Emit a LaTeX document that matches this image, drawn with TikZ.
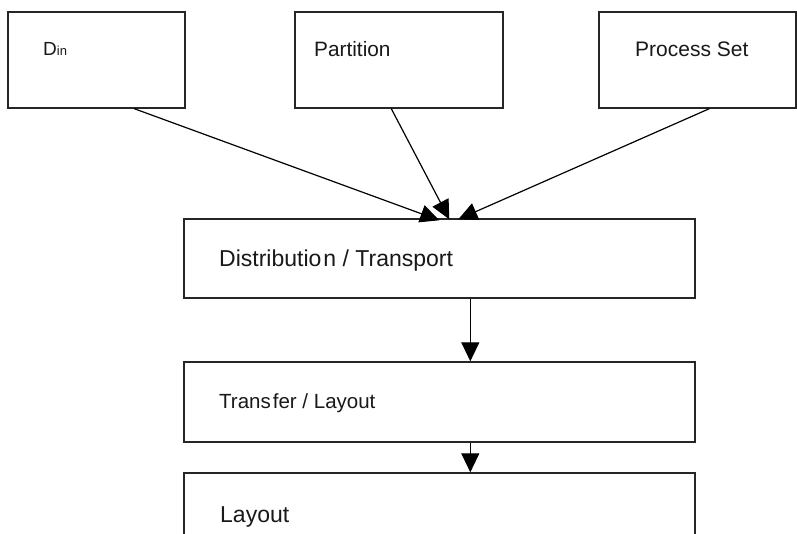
\documentclass[tikz,border=0pt]{standalone}
\usepackage{fontspec}
\setmainfont{Liberation Sans}
\usetikzlibrary{arrows.meta,calc}

\begin{document}
\begin{tikzpicture}[x=1pt,y=-1pt,
  box/.style={draw=black!85, line width=1.4pt, rectangle, inner sep=0pt, fill=white},
  txt/.style={anchor=base west, inner sep=0pt, text=black!90},
  flow/.style={draw=black, line width=1.2pt,
    -{Triangle[length=19pt,width=18pt]}},
  every node/.style={font=\fontsize{20}{24}\selectfont}]
  \useasboundingbox (0,0) rectangle (797,533);

  % source boxes
  \node[box, minimum width=177pt, minimum height=96pt] (din)  at (96.5,60) {};
  \node[box, minimum width=208pt, minimum height=96pt] (part) at (399,60) {};
  \node[box, minimum width=197pt, minimum height=96pt] (proc) at (697.5,60) {};

  % processing chain
  \node[box, minimum width=511pt, minimum height=79pt] (dist)  at (439.5,258.5) {};
  \node[box, minimum width=511pt, minimum height=80pt] (trans) at (439.5,402) {};
  \node[box, minimum width=511pt, minimum height=80pt] (lay)   at (439.5,513) {};

  % labels
  \node[txt] (ldin) at (43,55) {\fontsize{19}{22}\selectfont D\fontsize{13}{15}\selectfont in};
  \node[txt] (lpart) at (314,56) {\fontsize{20.8}{24}\selectfont Partition};
  \node[txt] (lproc) at (635,56) {\fontsize{21}{24}\selectfont Process Set};
  \node[txt] (ldist) at (219,266) {\fontsize{23}{27}\selectfont Distributio\hspace{2pt}n / Transport};
  \node[txt] (ltrans) at (219,408) {\fontsize{20.5}{24}\selectfont Trans\hspace{2pt}fer / Layout};
  \node[txt] (llay) at (220,522) {\fontsize{23}{27}\selectfont Layout};

  % arrow targets on the top edge of the distribution box
  \coordinate (t1) at ($(dist.north west)+(256,2)$);
  \coordinate (t2) at ($(dist.north west)+(266,1)$);
  \coordinate (t3) at ($(dist.north west)+(275,1)$);

  % connectors
  \draw[flow] ($(din.south west)+(127,0)$) -- (t1);
  \draw[flow] ($(part.south west)+(97,0)$) -- (t2);
  \draw[flow] ($(proc.south west)+(111,0)$) -- (t3);
  \draw[flow] ($(dist.south west)+(287,0)$) -- ($(trans.north west)+(287,0)$);
  \draw[flow] ($(trans.south west)+(287,0)$) -- ($(lay.north west)+(287,0)$);
\end{tikzpicture}
\end{document}
